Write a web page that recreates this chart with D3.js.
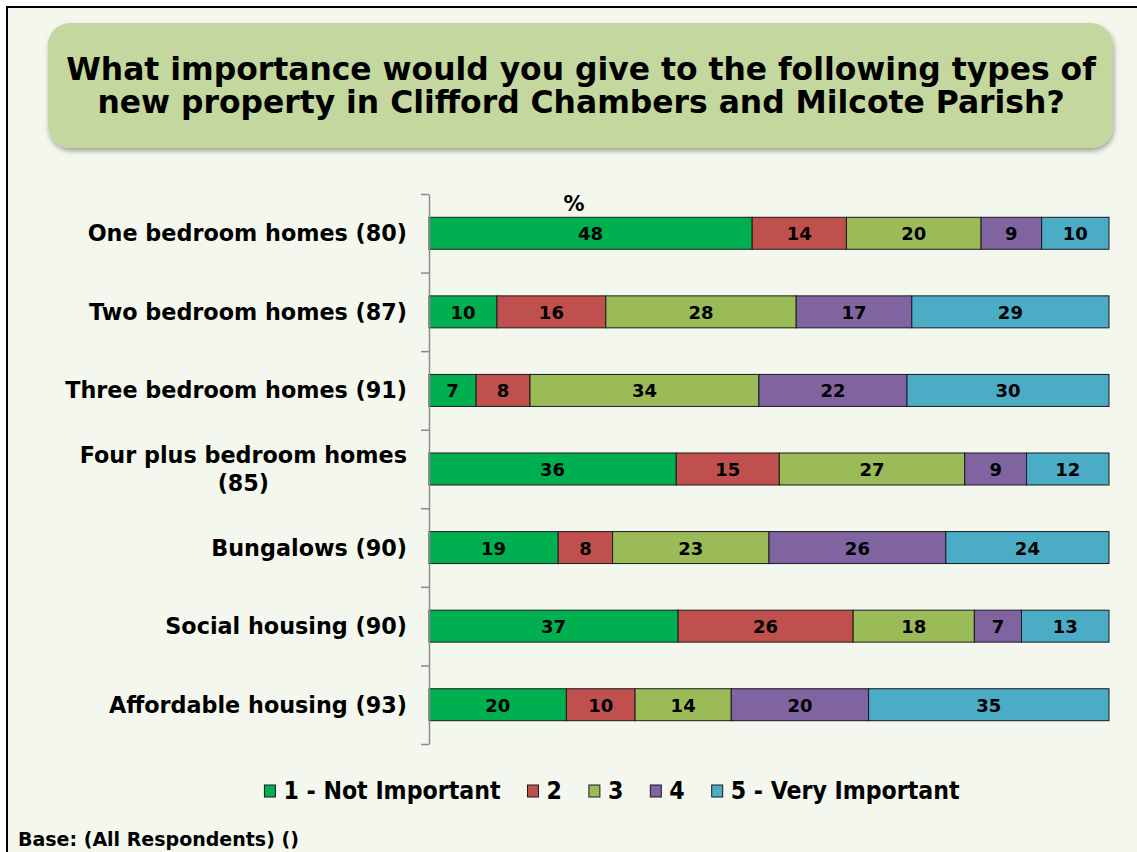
<!DOCTYPE html>
<html>
<head>
<meta charset="utf-8">
<script src="https://cdn.jsdelivr.net/npm/d3@7"></script>
<style>
  html, body { margin: 0; padding: 0; background: #ffffff; }
  svg { display: block; }
  text { font-family: "DejaVu Sans", Verdana, sans-serif; font-weight: bold; fill: #000; }
  text.cond { font-family: "DejaVu Sans Condensed", "DejaVu Sans", sans-serif; font-stretch: condensed; }
</style>
</head>
<body>
<svg id="chart" width="1137" height="852"></svg>
<script>
// Survey categories (respondent counts in brackets)
const categories = [
  "One bedroom homes (80)",
  "Two bedroom homes (87)",
  "Three bedroom homes (91)",
  "Four plus bedroom homes (85)",
  "Bungalows (90)",
  "Social housing (90)",
  "Affordable housing (93)"
];
// Rating series, percentages per category
const seriesNames = ["1 - Not Important", "2", "3", "4", "5 - Very Important"];
const notImportant  = [48, 10, 7, 36, 19, 37, 20];
const rating2       = [14, 16, 8, 15, 8, 26, 10];
const rating3       = [20, 28, 34, 27, 23, 18, 14];
const rating4       = [9, 17, 22, 9, 26, 7, 20];
const veryImportant = [10, 29, 30, 12, 24, 13, 35];
const seriesColors = ["#00b050", "#c0504d", "#9bbb59", "#8064a2", "#4bacc6"];

const titleLines = [
  "What importance would you give to the following types of",
  "new property in Clifford Chambers and Milcote Parish?"
];
const baseNote = "Base: (All Respondents) ()";

const seriesValues = [notImportant, rating2, rating3, rating4, veryImportant];
const rows = categories.map((c, i) => {
  const r = { category: c };
  seriesNames.forEach((s, k) => { r[s] = seriesValues[k][i]; });
  return r;
});

const svg = d3.select("#chart");

// page background and frame
svg.append("rect").attr("x", 0).attr("y", 0).attr("width", 1137).attr("height", 852).attr("fill", "#ffffff");
svg.append("rect").attr("x", 7).attr("y", 7).attr("width", 1140).attr("height", 860)
  .attr("fill", "#f4f7ee").attr("stroke", "#000").attr("stroke-width", 2);

// title panel with soft shadow
const defs = svg.append("defs");
const f = defs.append("filter").attr("id", "shadow").attr("x", "-5%").attr("y", "-20%").attr("width", "110%").attr("height", "150%");
f.append("feDropShadow").attr("dx", 1).attr("dy", 3).attr("stdDeviation", 2.5)
  .attr("flood-color", "#000").attr("flood-opacity", 0.35);

svg.append("rect").attr("x", 48).attr("y", 23).attr("width", 1065).attr("height", 125)
  .attr("rx", 22).attr("ry", 22).attr("fill", "#c4d79e").attr("filter", "url(#shadow)");

svg.append("g").selectAll("text").data(titleLines).join("text")
  .attr("x", 581).attr("y", (d, i) => 80 + i * 33)
  .attr("text-anchor", "middle").style("font-size", "31.4px")
  .text(d => d);

// scales
const x0 = 429, x1 = 1109, yTop = 194, yBot = 744;
const x = d3.scaleLinear().domain([0, 1]).range([x0, x1]);
const pin = 0.593;
const y = d3.scaleBand().domain(categories).range([yTop, yBot]).paddingInner(pin).paddingOuter(pin / 2);

const stack = d3.stack().keys(seriesNames).offset(d3.stackOffsetExpand);
const layers = stack(rows);

// bars
const g = svg.append("g");
layers.forEach((layer, k) => {
  const lg = g.append("g");
  lg.selectAll("rect").data(layer).join("rect")
    .attr("x", d => x(d[0]))
    .attr("y", d => y(d.data.category))
    .attr("width", d => x(d[1]) - x(d[0]))
    .attr("height", y.bandwidth())
    .attr("fill", seriesColors[k])
    .attr("stroke", "#1a1a1a").attr("stroke-width", 1);
  lg.selectAll("text").data(layer).join("text")
    .attr("x", d => (x(d[0]) + x(d[1])) / 2)
    .attr("y", d => y(d.data.category) + y.bandwidth() / 2 + 7)
    .attr("text-anchor", "middle").style("font-size", "18px")
    .text(d => d.data[seriesNames[k]]);
});

// category axis with ticks between categories
const yb = d3.scaleLinear().domain([0, categories.length]).range([yTop, yBot]);
const axis = svg.append("g").attr("transform", `translate(${x0},0)`)
  .call(d3.axisLeft(yb).tickValues(d3.range(categories.length + 1)).tickFormat("").tickSize(8).tickSizeOuter(0));
axis.select(".domain").attr("stroke", "#8c8c8c").attr("stroke-width", 1.5);
axis.selectAll(".tick line").attr("stroke", "#8c8c8c").attr("stroke-width", 1.5);

// category labels
const wrapAt = { "Four plus bedroom homes (85)": ["Four plus bedroom homes", "(85)"] };
categories.forEach(c => {
  const cy = y(c) + y.bandwidth() / 2;
  const lines = wrapAt[c] || [c];
  if (lines.length === 1) {
    svg.append("text").attr("x", 407).attr("y", cy + 8).attr("text-anchor", "end")
      .style("font-size", "22.3px").text(c);
  } else {
    const t = svg.append("text").style("font-size", "22.3px").text(lines[0])
      .attr("x", 407).attr("y", cy - 6).attr("text-anchor", "end");
    const w = t.node().getComputedTextLength();
    svg.append("text").style("font-size", "22.3px").text(lines[1])
      .attr("x", 407 - w / 2).attr("y", cy + 22).attr("text-anchor", "middle");
  }
});

// unit label
svg.append("text").attr("x", 574).attr("y", 211).attr("text-anchor", "middle")
  .style("font-size", "21px").text("%");

// legend
const legend = svg.append("g");
const items = [];
seriesNames.forEach((s, k) => {
  const it = legend.append("g");
  it.append("rect").attr("x", 0).attr("y", -6).attr("width", 11).attr("height", 12)
    .attr("fill", seriesColors[k]).attr("stroke", "#1a1a1a").attr("stroke-width", 1);
  const t = it.append("text").attr("class", "cond").attr("x", 19).attr("y", 8)
    .style("font-size", "24.6px").text(s);
  const w = 19 + t.node().getComputedTextLength();
  items.push({ it, w });
});
const gap = 27;
const total = d3.sum(items, d => d.w) + gap * (items.length - 1);
let lx = 612 - total / 2;
items.forEach(d => { d.it.attr("transform", `translate(${lx},791)`); lx += d.w + gap; });

// base note
svg.append("text").attr("x", 18).attr("y", 846).style("font-size", "19px").text(baseNote);
</script>
</body>
</html>
